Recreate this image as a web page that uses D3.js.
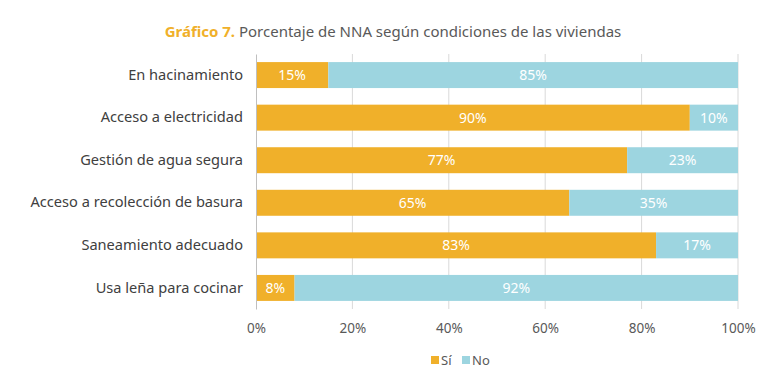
<!DOCTYPE html>
<html>
<head>
<meta charset="utf-8">
<script src="https://cdn.jsdelivr.net/npm/d3@7"></script>
<style>
  body { margin: 0; background: #fff; }
  text { font-family: "Noto Sans", "Open Sans", sans-serif; }
</style>
</head>
<body>
<script>
// chart data
var categories = ["En hacinamiento", "Acceso a electricidad", "Gestión de agua segura",
                  "Acceso a recolección de basura", "Saneamiento adecuado", "Usa leña para cocinar"];
var si = [15, 90, 77, 65, 83, 8];
var no = [85, 10, 23, 35, 17, 92];
var ticks = [0, 20, 40, 60, 80, 100];
var seriesNames = ["Sí", "No"];

var w = 780, h = 387;
var colors = ["#F0B02A", "#9DD5E0"];

var svg = d3.select("body").append("svg")
    .attr("width", w)
    .attr("height", h);

// title
var title = svg.append("text")
    .attr("x", 393)
    .attr("y", 37)
    .attr("text-anchor", "middle")
    .attr("font-size", 15);
title.append("tspan").attr("fill", "#F0B02A").attr("font-weight", "bold").text("Gráfico 7.");
title.append("tspan").attr("fill", "#595959").text(" Porcentaje de NNA según condiciones de las viviendas");

var x = d3.scaleLinear().domain([0, 100]).range([256, 738]);
var y = d3.scaleBand().domain(categories).range([54, 309]).paddingInner(0.39).paddingOuter(0.19);

// gridlines
svg.append("g").selectAll("line")
    .data(ticks.slice(1))
    .enter().append("line")
    .attr("x1", function(d) { return x(d); })
    .attr("x2", function(d) { return x(d); })
    .attr("y1", 54)
    .attr("y2", 309)
    .attr("stroke", "#d9d9d9")
    .attr("stroke-width", 1);

// bars
var rows = categories.map(function(c, i) {
  return [{cat: c, s: 0, x0: 0, x1: si[i], v: si[i]}, {cat: c, s: 1, x0: si[i], x1: 100, v: no[i]}];
});
var seg = svg.append("g").selectAll("g")
    .data(d3.merge(rows))
    .enter().append("g");

seg.append("rect")
    .attr("x", function(d) { return x(d.x0); })
    .attr("y", function(d) { return y(d.cat); })
    .attr("width", function(d) { return x(d.x1) - x(d.x0); })
    .attr("height", y.bandwidth())
    .attr("fill", function(d) { return colors[d.s]; });

seg.append("text")
    .attr("x", function(d) { return (x(d.x0) + x(d.x1)) / 2; })
    .attr("y", function(d) { return y(d.cat) + y.bandwidth() / 2 + 5; })
    .attr("text-anchor", "middle")
    .attr("font-size", 14)
    .attr("fill", "#fff")
    .text(function(d) { return d.v + "%"; });

// y axis
var ya = svg.append("g")
    .attr("transform", "translate(256,0)")
    .call(d3.axisLeft(y).tickSize(0).tickPadding(13));
ya.select(".domain").attr("stroke", "#bfbfbf");
ya.selectAll("text")
    .attr("font-size", 14.6)
    .attr("fill", "#404040")
    .style("font-family", "'Noto Sans', sans-serif");

// x axis
var xa = svg.append("g")
    .attr("transform", "translate(0,310)")
    .call(d3.axisBottom(x).tickValues(ticks).tickSize(0).tickPadding(13)
      .tickFormat(function(d) { return d + "%"; }));
xa.select(".domain").remove();
xa.selectAll("text")
    .attr("font-size", 13.5)
    .attr("fill", "#595959")
    .style("font-family", "'Noto Sans', sans-serif");

// legend
var leg = svg.append("g").attr("transform", "translate(431,361)");
var li = leg.selectAll("g")
    .data(seriesNames)
    .enter().append("g")
    .attr("transform", function(d, i) { return "translate(" + (i * 31) + ",0)"; });
li.append("rect")
    .attr("x", 0).attr("y", -5)
    .attr("width", 8).attr("height", 8)
    .attr("fill", function(d, i) { return colors[i]; });
li.append("text")
    .attr("x", 10).attr("y", 4)
    .attr("font-size", 13)
    .attr("fill", "#595959")
    .text(function(d) { return d; });
</script>
</body>
</html>
